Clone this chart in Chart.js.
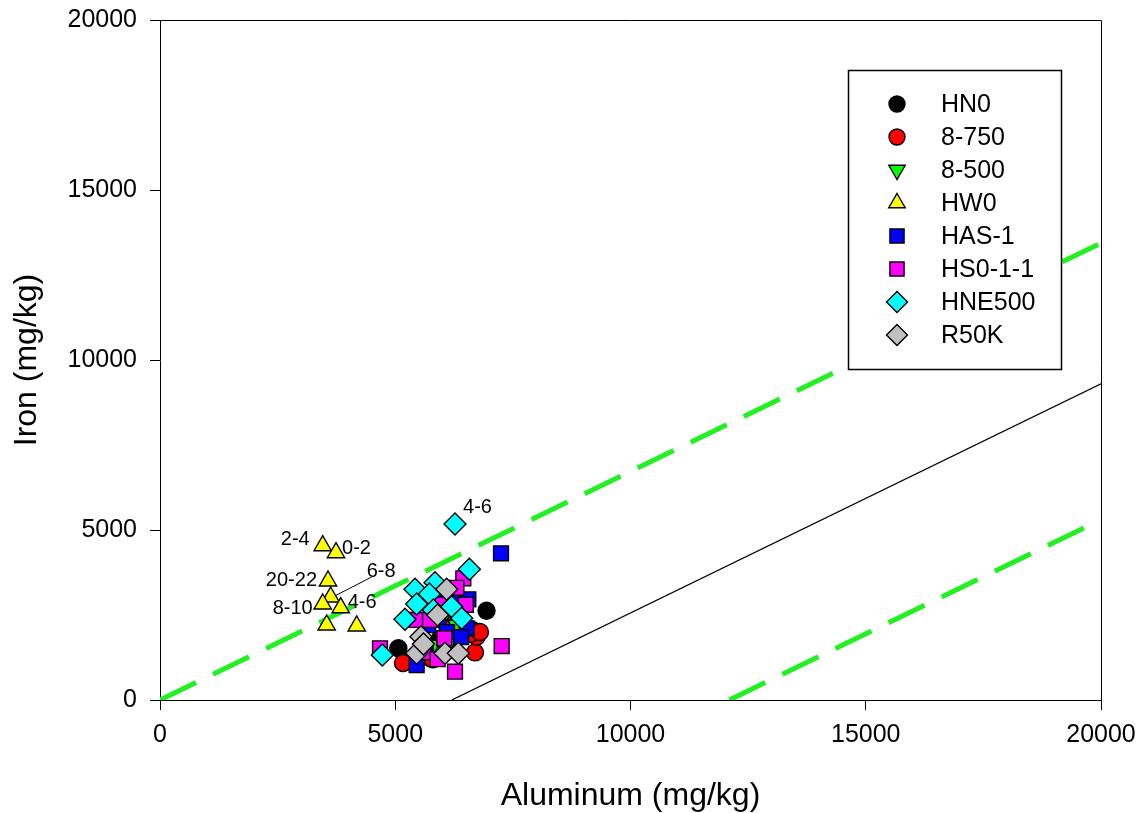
<!DOCTYPE html>
<html>
<head>
<meta charset="utf-8">
<script src="https://cdn.jsdelivr.net/npm/chart.js@4/dist/chart.umd.min.js"></script>
<style>
  html, body { margin: 0; padding: 0; background: #fff; }
  #wrap { width: 1143px; height: 813px; }
</style>
</head>
<body>
<div id="wrap"><canvas id="chart" width="1143" height="813"></canvas></div>
<script>
// axis ticks
const tickValues = [0, 5000, 10000, 15000, 20000];

// series names, drawn in this order (later ones on top)
const seriesNames = ['HN0', '8-750', '8-500', 'HW0', 'HAS-1', 'HS0-1-1', 'HNE500', 'R50K'];

// [aluminum, iron] pairs, mg/kg
const hn0 = [[6940, 2627], [5066, 1520], [5738, 1235], [6730, 1970], [6640, 2060], [5500, 1300], [6300, 2500], [5950, 1800], [6200, 1500], [6450, 1900]];
const s8_750 = [[6695, 1400], [5207, 1120], [6730, 1862], [6164, 2206], [6600, 1950], [5165, 1088], [6200, 2900], [6376, 2118], [5800, 1200], [6050, 2300], [6380, 2700], [6800, 2000]];
const s8_500 = [[5800, 1610], [5960, 3280], [6000, 2400], [6300, 2200], [6150, 1700]];
const hw0 = [[3458, 4538], [3741, 4332], [3571, 3500], [3628, 3029], [3458, 2824], [3841, 2715], [3543, 2206], [4181, 2176]];
const has1 = [[7248, 4314], [6553, 2961], [5455, 1029], [6518, 2108], [6200, 2941], [5916, 2353], [6350, 2600], [6100, 2000], [5700, 2200], [6000, 3100], [6400, 1850], [5650, 1450]];
const hs011 = [[7262, 1588], [6270, 833], [4676, 1520], [5455, 2353], [6043, 1814], [5738, 2353], [6447, 3578], [6300, 3300], [5600, 1400], [6000, 2800], [5900, 1200], [6500, 2800]];
const hne500 = [[6270, 5176], [6575, 3843], [5420, 3255], [5845, 3451], [5725, 3118], [5455, 2824], [5810, 2647], [6200, 2745], [6412, 2402], [5207, 2373], [4725, 1324]];
const r50k = [[6093, 3255], [5547, 1862], [6057, 1373], [6340, 1373], [5455, 1373], [5600, 1650], [5900, 2500]];

// reference lines, [aluminum, iron] end points
const upperLine = [[0, 0], [20000, 13440]];
const middleLine = [[6200, 0], [20000, 9300]];
const lowerLine = [[12100, 0], [20000, 5300]];

// depth labels next to some points: text, aluminum, iron
const labelTexts = ['2-4', '0-2', '20-22', '6-8', '8-10', '4-6', '4-6'];
const labelAl = [3458, 3741, 3571, 3628, 3458, 3841, 6270];
const labelFe = [4538, 4332, 3500, 3029, 2824, 2715, 5176];

const seriesData = [hn0, s8_750, s8_500, hw0, has1, hs011, hne500, r50k];
const seriesStyle = [
    { pointStyle: 'circle', radius: 8.5, color: '#000000', rotation: 0 },
    { pointStyle: 'circle', radius: 8.5, color: '#ff0000', rotation: 0 },
    { pointStyle: 'triangle', radius: 10, color: '#00ff00', rotation: 180 },
    { pointStyle: 'triangle', radius: 10, color: '#ffff00', rotation: 0 },
    { pointStyle: 'rect', radius: 10.5, color: '#0000ff', rotation: 0 },
    { pointStyle: 'rect', radius: 10.5, color: '#ff00ff', rotation: 0 },
    { pointStyle: 'rectRot', radius: 11, color: '#00ffff', rotation: 0 },
    { pointStyle: 'rectRot', radius: 11, color: '#c0c0c0', rotation: 0 }
];

function toPoints(arr) {
    return arr.map(p => ({ x: p[0], y: p[1] }));
}

const datasets = [];

[upperLine, middleLine, lowerLine].forEach((line, i) => {
    const dashed = i !== 1;
    datasets.push({
        label: 'line' + i,
        data: toPoints(line),
        showLine: true,
        borderColor: dashed ? '#22f022' : '#000000',
        borderWidth: dashed ? 5 : 1.3,
        borderDash: dashed ? [40, 19] : [],
        pointRadius: 0,
        fill: false,
        order: 100
    });
});

seriesData.forEach((arr, i) => {
    const st = seriesStyle[i];
    datasets.push({
        label: seriesNames[i],
        data: toPoints(arr),
        showLine: false,
        pointStyle: st.pointStyle,
        pointRotation: st.rotation,
        pointRadius: st.radius,
        pointBackgroundColor: st.color,
        pointBorderColor: '#000000',
        pointBorderWidth: 1.4,
        order: 20 - i
    });
});

// frame on top and right side
const framePlugin = {
    id: 'frame',
    afterDraw(chart) {
        const a = chart.chartArea;
        const ctx = chart.ctx;
        ctx.save();
        ctx.strokeStyle = '#000';
        ctx.lineWidth = 1;
        ctx.beginPath();
        ctx.moveTo(a.left, a.top + 0.5);
        ctx.lineTo(a.right + 0.5, a.top + 0.5);
        ctx.lineTo(a.right + 0.5, a.bottom);
        ctx.stroke();
        ctx.restore();
    }
};

// small text labels beside points
const labelOffsets = [
    { dx: -13, dy: -6, align: 'right' },
    { dx: 6, dy: -4, align: 'left' },
    { dx: -11, dy: -1, align: 'right' },
    { dx: 36, dy: -26, align: 'left', leader: true },
    { dx: -10, dy: 5, align: 'right' },
    { dx: 7, dy: -5, align: 'left' },
    { dx: 8, dy: -17, align: 'left' }
];

const labelPlugin = {
    id: 'pointLabels',
    afterDatasetsDraw(chart) {
        const ctx = chart.ctx;
        const xs = chart.scales.x, ys = chart.scales.y;
        ctx.save();
        ctx.font = '20px "Liberation Sans", Arial, sans-serif';
        ctx.fillStyle = '#000';
        ctx.textBaseline = 'middle';
        labelTexts.forEach((t, i) => {
            const px = xs.getPixelForValue(labelAl[i]);
            const py = ys.getPixelForValue(labelFe[i]);
            const o = labelOffsets[i];
            if (o.leader) {
                ctx.strokeStyle = '#000';
                ctx.lineWidth = 1;
                ctx.beginPath();
                ctx.moveTo(px + 4, py - 1);
                ctx.lineTo(px + 41, py - 20);
                ctx.stroke();
            }
            ctx.textAlign = o.align;
            ctx.fillText(t, px + o.dx, py + o.dy);
        });
        ctx.restore();
    }
};

// legend box inside the plot
const legendPlugin = {
    id: 'boxLegend',
    afterDraw(chart) {
        const ctx = chart.ctx;
        const left = 848, top = 70, w = 213, h = 299;
        ctx.save();
        ctx.fillStyle = '#fff';
        ctx.fillRect(left, top, w, h);
        ctx.strokeStyle = '#000';
        ctx.lineWidth = 1.5;
        ctx.strokeRect(left + 0.5, top + 0.5, w, h);
        ctx.font = '25px "Liberation Sans", Arial, sans-serif';
        ctx.textBaseline = 'middle';
        ctx.textAlign = 'left';
        seriesNames.forEach((name, i) => {
            const st = seriesStyle[i];
            const y = 104 + i * 33;
            ctx.fillStyle = st.color;
            ctx.strokeStyle = '#000';
            ctx.lineWidth = 1.4;
            Chart.helpers.drawPoint(ctx, {
                pointStyle: st.pointStyle,
                rotation: st.rotation,
                radius: st.radius - 0.5,
                borderWidth: 1.4
            }, 897, y);
            ctx.fillStyle = '#000';
            ctx.fillText(name, 941, y + 1);
        });
        ctx.restore();
    }
};

const tickFont = { family: '"Liberation Sans", Arial, sans-serif', size: 25 };
const titleFont = { family: '"Liberation Sans", Arial, sans-serif', size: 32, lineHeight: 1 };
const plainNumber = v => String(v);

// keep the plot area fixed; the layout padding alone decides it
function fixPadding(s) {
    s.paddingTop = 0;
    s.paddingBottom = 0;
    s.paddingLeft = 0;
    s.paddingRight = 0;
}

new Chart(document.getElementById('chart').getContext('2d'), {
    type: 'scatter',
    data: { datasets: datasets },
    options: {
        responsive: false,
        animation: false,
        layout: { padding: { top: 20, right: 42, left: 0, bottom: 0 } },
        plugins: {
            legend: { display: false },
            tooltip: { enabled: false }
        },
        scales: {
            x: {
                type: 'linear',
                min: 0,
                max: 20000,
                afterBuildTicks: s => { s.ticks = tickValues.map(v => ({ value: v })); },
                afterFit: s => { s.height = 113; fixPadding(s); },
                ticks: { color: '#000', font: tickFont, padding: 10, maxRotation: 0, callback: plainNumber },
                grid: { drawOnChartArea: false, drawTicks: true, tickLength: 10, color: '#000', tickWidth: 1 },
                border: { color: '#000', width: 1 },
                title: { display: true, text: 'Aluminum (mg/kg)', color: '#000', font: titleFont, padding: { top: 0, bottom: 1 } }
            },
            y: {
                type: 'linear',
                min: 0,
                max: 20000,
                afterBuildTicks: s => { s.ticks = tickValues.map(v => ({ value: v })); },
                afterFit: s => { s.width = 160; fixPadding(s); },
                ticks: { color: '#000', font: tickFont, padding: 13, callback: plainNumber },
                grid: { drawOnChartArea: false, drawTicks: true, tickLength: 10, color: '#000', tickWidth: 1 },
                border: { color: '#000', width: 1 },
                title: { display: true, text: 'Iron (mg/kg)', color: '#000', font: titleFont, padding: { top: 11, bottom: 0 } }
            }
        }
    },
    plugins: [framePlugin, labelPlugin, legendPlugin]
});
</script>
</body>
</html>
